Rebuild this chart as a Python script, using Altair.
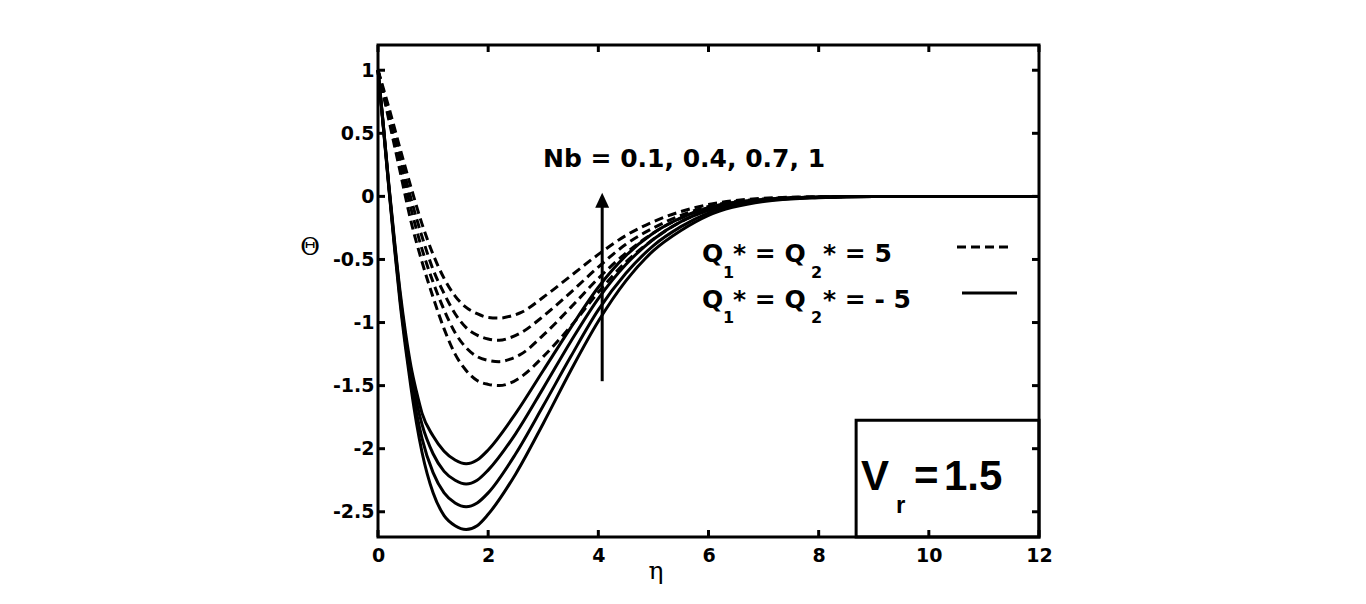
import altair as alt
import pandas as pd

# ---- temperature profiles Theta(eta) for Nb = 0.1, 0.4, 0.7, 1 ----
nb_values = ["0.1", "0.4", "0.7", "1"]

# Q1* = Q2* = -5 (solid)
eta_solid = [0, 0.1, 0.2, 0.3, 0.4, 0.5, 0.6, 0.7, 0.8, 1.0, 1.2, 1.4, 1.6, 1.8,
             2.0, 2.5, 3.0, 3.5, 4.0, 4.5, 5.0, 5.5, 6.0, 7.0, 8.0, 9.0, 10.0, 12.0]
solid_nb1 = [1, 0.55, 0.08, -0.35, -0.75, -1.08, -1.35, -1.55, -1.72, -1.90, -2.02, -2.09, -2.12, -2.09,
             -2.01, -1.72, -1.38, -1.04, -0.72, -0.47, -0.29, -0.17, -0.09, -0.025, -0.005, 0, 0, 0]
solid_nb07 = [1, 0.55, 0.07, -0.37, -0.78, -1.12, -1.41, -1.63, -1.81, -2.04, -2.18, -2.25, -2.28, -2.25,
              -2.17, -1.88, -1.52, -1.15, -0.81, -0.54, -0.34, -0.20, -0.11, -0.03, -0.007, 0, 0, 0]
solid_nb04 = [1, 0.54, 0.06, -0.39, -0.81, -1.16, -1.47, -1.72, -1.92, -2.19, -2.35, -2.43, -2.46, -2.43,
              -2.35, -2.04, -1.66, -1.27, -0.90, -0.61, -0.39, -0.24, -0.13, -0.035, -0.008, 0, 0, 0]
solid_nb01 = [1, 0.53, 0.05, -0.41, -0.84, -1.20, -1.52, -1.80, -2.03, -2.35, -2.53, -2.61, -2.64, -2.61,
              -2.52, -2.20, -1.80, -1.38, -0.99, -0.67, -0.43, -0.27, -0.15, -0.04, -0.01, 0, 0, 0]

# Q1* = Q2* = 5 (dashed)
eta_dash = [0, 0.2, 0.4, 0.6, 0.8, 1.0, 1.2, 1.4, 1.6, 1.8, 2.0, 2.2, 2.4, 2.6,
            3.0, 3.5, 4.0, 4.5, 5.0, 5.5, 6.0, 7.0, 8.0, 9.0, 10.0, 12.0]
dash_nb1 = [1, 0.70, 0.38, 0.07, -0.22, -0.46, -0.65, -0.79, -0.88, -0.93, -0.96, -0.965, -0.95, -0.92,
            -0.80, -0.63, -0.46, -0.31, -0.20, -0.12, -0.065, -0.015, -0.003, 0, 0, 0]
dash_nb07 = [1, 0.66, 0.32, -0.02, -0.32, -0.58, -0.77, -0.93, -1.04, -1.10, -1.13, -1.14, -1.12, -1.08,
             -0.95, -0.76, -0.56, -0.38, -0.25, -0.15, -0.08, -0.02, -0.004, 0, 0, 0]
dash_nb04 = [1, 0.63, 0.26, -0.10, -0.42, -0.68, -0.90, -1.08, -1.20, -1.27, -1.30, -1.31, -1.29, -1.25,
             -1.10, -0.88, -0.65, -0.45, -0.29, -0.17, -0.09, -0.025, -0.005, 0, 0, 0]
dash_nb01 = [1, 0.60, 0.20, -0.20, -0.52, -0.80, -1.05, -1.25, -1.38, -1.46, -1.49, -1.50, -1.48, -1.43,
             -1.27, -1.03, -0.76, -0.52, -0.34, -0.20, -0.11, -0.03, -0.006, 0, 0, 0]

x_ticks = [0, 2, 4, 6, 8, 10, 12]
y_ticks = [-2.5, -2, -1.5, -1, -0.5, 0, 0.5, 1]

W, H = 661, 492
X_DOM = [0, 12]
Y_DOM = [-2.7, 1.2]
BOLD = "DejaVu Sans"

# plain hyphen-minus, no trailing zeros
LABEL_EXPR = "datum.value < 0 ? '-' + format(-datum.value, '~g') : format(datum.value, '~g')"


def frame(eta, series):
    rows = []
    for nb, ys in zip(nb_values, series):
        for e, v in zip(eta, ys):
            rows.append({"eta": e, "theta": v, "nb": nb})
    return pd.DataFrame(rows)


solid_df = frame(eta_solid, [solid_nb01, solid_nb04, solid_nb07, solid_nb1])
dash_df = frame(eta_dash, [dash_nb01, dash_nb04, dash_nb07, dash_nb1])

xs = alt.Scale(domain=X_DOM, nice=False, zero=False)
ys = alt.Scale(domain=Y_DOM, nice=False, zero=False)

# one shared axis definition per channel, used by every layer so they merge
x_axis = alt.Axis(values=x_ticks, ticks=False, domain=False, grid=False, title="",
                  labelExpr=LABEL_EXPR,
                  labelFont=BOLD, labelFontWeight="bold", labelFontSize=19,
                  labelColor="black", labelPadding=9, labelFlush=False)
y_axis = alt.Axis(values=y_ticks, ticks=False, domain=False, grid=False, title="",
                  labelExpr=LABEL_EXPR,
                  labelFont=BOLD, labelFontWeight="bold", labelFontSize=19,
                  labelColor="black", labelPadding=4, labelFlush=False)


def X(field):
    return alt.X(field, scale=xs, axis=x_axis)


def Y(field):
    return alt.Y(field, scale=ys, axis=y_axis)


solid = alt.Chart(solid_df).mark_line(
    color="black", strokeWidth=3, interpolate="monotone"
).encode(x=X("eta:Q"), y=Y("theta:Q"), detail="nb:N")

dashed = alt.Chart(dash_df).mark_line(
    color="black", strokeWidth=3, strokeDash=[9, 5], interpolate="monotone"
).encode(x=X("eta:Q"), y=Y("theta:Q"), detail="nb:N")

# inward tick marks on all four sides
xt = pd.DataFrame({"v": x_ticks})
yt = pd.DataFrame({"v": y_ticks})
TL = 7
tick_style = dict(color="black", strokeWidth=3)
xt_bottom = alt.Chart(xt).mark_rule(**tick_style).encode(
    x=X("v:Q"), y=alt.value(H), y2=alt.value(H - TL))
xt_top = alt.Chart(xt).mark_rule(**tick_style).encode(
    x=X("v:Q"), y=alt.value(0), y2=alt.value(TL))
yt_left = alt.Chart(yt).mark_rule(**tick_style).encode(
    y=Y("v:Q"), x=alt.value(0), x2=alt.value(TL))
yt_right = alt.Chart(yt).mark_rule(**tick_style).encode(
    y=Y("v:Q"), x=alt.value(W - TL), x2=alt.value(W))

# Nb arrow
arrow_df = pd.DataFrame({"eta": [4.07], "y0": [-1.465], "y1": [-0.07], "tip": [-0.03]})
arrow_line = alt.Chart(arrow_df).mark_rule(color="black", strokeWidth=3).encode(
    x=X("eta:Q"), y=Y("y0:Q"), y2="y1:Q")
arrow_head = alt.Chart(arrow_df).mark_point(
    shape="M0,-1L-0.93,1L0.93,1Z", filled=True, color="black", opacity=1, size=225
).encode(x=X("eta:Q"), y=Y("tip:Q"))

# V_r box
box_df = pd.DataFrame({"x0": [8.68], "x1": [12.0], "y0": [-1.774], "y1": [-2.7]})
box = alt.Chart(box_df).mark_rect(
    fillOpacity=0, stroke="black", strokeWidth=3
).encode(x=X("x0:Q"), x2="x1:Q", y=Y("y0:Q"), y2="y1:Q")


def label(text, x, y, size, font=BOLD, weight="bold", align="left", baseline="alphabetic"):
    return alt.Chart(pd.DataFrame({"t": [text]})).mark_text(
        font=font, fontSize=size, fontWeight=weight, color="black",
        align=align, baseline=baseline
    ).encode(text="t:N", x=alt.value(x), y=alt.value(y))


texts = [
    label("Nb = " + ", ".join(nb_values), 165, 122, 25),
    # legend: Q1* = Q2* = 5
    label("Q", 324, 217, 25), label("1", 345, 233, 16), label("* = Q", 355, 217, 25),
    label("2", 433, 233, 16), label("* = 5", 445, 217, 25),
    # legend: Q1* = Q2* = - 5
    label("Q", 324, 263, 25), label("1", 345, 278, 16), label("* = Q", 355, 263, 25),
    label("2", 433, 278, 16), label("* = - 5", 445, 263, 25),
    # V_r = 1.5
    label("V", 483, 445, 42, font="Liberation Sans"),
    label("r", 518, 468, 24, font="Liberation Sans"),
    label("=", 536, 445, 42, font="Liberation Sans"),
    label("1.5", 566, 445, 42, font="Liberation Sans"),
    # axis titles
    label("\u0398", -68, 203, 24, font="DejaVu Serif", weight="normal", align="center", baseline="middle"),
    label("\u03b7", 278, 526, 25, font="DejaVu Serif", weight="normal", align="center", baseline="middle"),
]

legend_dash = alt.Chart(pd.DataFrame({"k": [1]})).mark_rule(
    color="black", strokeWidth=3, strokeDash=[9, 5]
).encode(x=alt.value(579), x2=alt.value(630), y=alt.value(202))
legend_solid = alt.Chart(pd.DataFrame({"k": [1]})).mark_rule(
    color="black", strokeWidth=3
).encode(x=alt.value(584), x2=alt.value(639), y=alt.value(248))

chart = alt.layer(
    solid, dashed, xt_bottom, xt_top, yt_left, yt_right,
    arrow_line, arrow_head, box, legend_dash, legend_solid, *texts
).properties(
    width=W, height=H,
    padding={"left": 378, "top": 45, "right": 327, "bottom": 67},
    autosize=alt.AutoSizeParams(type="none"),
    background="white",
).configure_view(
    stroke="black", strokeWidth=3
)

chart.save("out.html", embed_options={"renderer": "svg", "actions": False})
